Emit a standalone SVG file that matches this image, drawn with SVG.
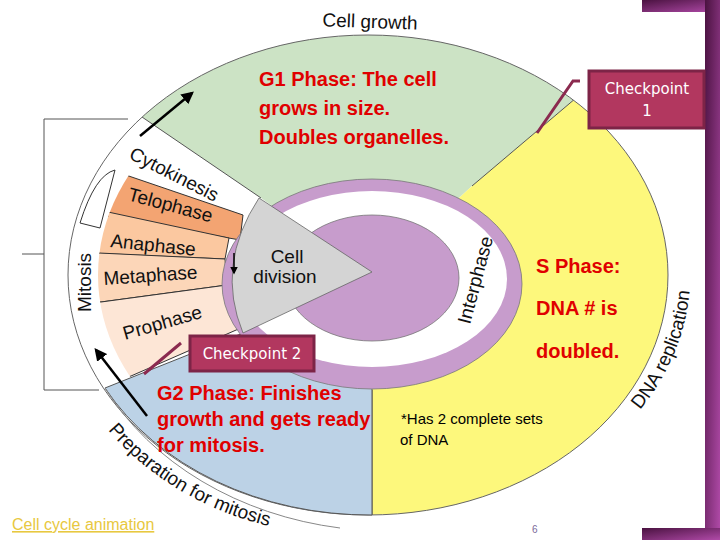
<svg xmlns="http://www.w3.org/2000/svg" width="720" height="540" viewBox="0 0 720 540">
<style>
.lbl{font-family:"Liberation Sans",Arial,sans-serif;font-size:19px;fill:#111}
.red{font-family:"Liberation Sans",Arial,sans-serif;font-size:20px;font-weight:bold;fill:#e00000}
.ck{font-family:"DejaVu Sans",sans-serif;font-size:15px;fill:#fff}
.ckbox{fill:#b2375f;stroke:#7d2447;stroke-width:3}
.band{stroke:#333;stroke-width:1}
</style>
<defs>
<clipPath id="outer"><ellipse cx="368" cy="275" rx="300" ry="240"/></clipPath>
<clipPath id="inner"><ellipse cx="368" cy="275" rx="270" ry="215"/></clipPath>
<linearGradient id="pg" x1="0" y1="0" x2="1" y2="1"><stop offset="0" stop-color="#4a1240"/><stop offset="1" stop-color="#b04aa8"/></linearGradient>
<marker id="ah" viewBox="0 0 10 10" refX="8" refY="5" markerWidth="5" markerHeight="5" orient="auto"><path d="M0,0 L10,5 L0,10 z" fill="#000"/></marker>
</defs>
<rect width="720" height="540" fill="#fff"/>
<g id="frame"><rect x="642" y="0" width="78" height="12" fill="url(#pg)"/><rect x="705" y="0" width="15" height="540" fill="url(#pg)"/><rect x="642" y="528" width="78" height="12" fill="url(#pg)"/></g>
<g id="disk">
<ellipse cx="368" cy="275" rx="300" ry="240" fill="#fff"/>
<g clip-path="url(#outer)">
<polygon id="g1" points="261,198 142,117 80,40 368,-10 700,-10 576,98 472,186 372,278" fill="#cce3c5"/>
<polygon id="s" points="472,186 576,98 760,-10 760,600 372,600 372,278" fill="#fdf87c"/>
<line x1="261" y1="198" x2="142" y2="117" stroke="#555"/><line x1="472" y1="186" x2="576" y2="98" stroke="#555"/><line x1="372" y1="390" x2="372" y2="520" stroke="#555"/>
</g>
<ellipse cx="368" cy="275" rx="300" ry="240" fill="none" stroke="#666"/>
<path id="g2" d="M372,278 L372,515 A300 240 0 0 1 105,388 L243,333 Z" fill="#bcd2e6" stroke="#555"/>
<g clip-path="url(#inner)">
<polygon class="band" points="100,160 117,172 243,215 240,240 100,215" fill="#f3a472"/>
<polygon class="band" points="90,212 108,212 229,238 225,259 90,253" fill="#fbc8a0"/>
<polygon class="band" points="90,253 99,253 225,259 227,285 101,302 90,302" fill="#fcd6b8"/>
<polygon class="band" points="90,302 101,302 227,285 243,327 131,376 90,390" fill="#fde6d6"/>
</g>
<path d="M105,388 A318 262 0 0 0 340,528" fill="none" stroke="#888"/>
</g>
<g id="inner-cycle">
<ellipse cx="372" cy="284" rx="150" ry="105" fill="#c79ccc" stroke="#777" stroke-width="0.8"/>
<ellipse cx="372" cy="279" rx="135" ry="88" fill="#fff"/>
<ellipse cx="372" cy="278" rx="87" ry="63" fill="#c79ccc" stroke="#777" stroke-width="0.8"/>
</g>
<g id="cell-division"><path d="M372,272 L259,198 Q215,265 243,333 Z" fill="#d4d4d4" stroke="#666" stroke-width="0.8"/>
<text class="lbl" x="287" y="263" text-anchor="middle">Cell</text><text class="lbl" x="285" y="283" text-anchor="middle">division</text></g>
<g id="labels" class="lbl">
<text x="370" y="28" text-anchor="middle" transform="rotate(2 370 22)">Cell growth</text>
<text x="128" y="158" transform="rotate(27 128 158)">Cytokinesis</text>
<text x="127" y="200" transform="rotate(15 127 200)">Telophase</text>
<text x="110" y="247" transform="rotate(6 110 247)">Anaphase</text>
<text x="104" y="285" transform="rotate(-4 104 285)">Metaphase</text>
<text x="125" y="340" transform="rotate(-16 125 340)">Prophase</text>
<text x="91" y="312" transform="rotate(-90 91 312)">Mitosis</text>
<text x="470" y="325" transform="rotate(-75 470 325)">Interphase</text>
<path id="dnap" d="M640 410 A318 252 0 0 0 690 285" fill="none"/>
<text><textPath href="#dnap">DNA replication</textPath></text>
<path id="prep" d="M108 430 A300 255 0 0 0 325 535" fill="none"/>
<text><textPath href="#prep">Preparation for mitosis</textPath></text>
</g>
<g id="bracket" fill="none" stroke="#555"><polyline points="128,119 44,119 44,390 99,390"/><line x1="22" y1="254" x2="44" y2="254"/><path d="M115,170 L100,228 L80,223 Q95,175 115,170" stroke="#333"/></g>
<g id="connectors" stroke="#000" stroke-width="2.5" fill="none">
<line x1="140" y1="136" x2="192" y2="93" marker-end="url(#ah)"/>
<line x1="147" y1="416" x2="96" y2="350" marker-end="url(#ah)"/>
<line x1="234" y1="253" x2="234" y2="273" stroke-width="1.5" marker-end="url(#ah)"/>
<polyline points="580,81 573,81 537,133" stroke="#8b2a4f" stroke-width="3"/>
<line x1="181" y1="343" x2="144" y2="374" stroke="#8b2a4f" stroke-width="3"/>
</g>
<g id="checkpoint1"><rect class="ckbox" x="589" y="71" width="115" height="57"/><text class="ck" x="647" y="94" text-anchor="middle">Checkpoint</text><text class="ck" x="647" y="116" text-anchor="middle">1</text></g>
<g id="checkpoint2"><rect class="ckbox" x="190" y="336" width="124" height="35"/><text class="ck" x="252" y="359" text-anchor="middle">Checkpoint 2</text></g>
<g id="text" class="red">
<text x="259" y="86">G1 Phase: The cell</text><text x="259" y="115">grows in size.</text><text x="259" y="144">Doubles organelles.</text>
<text x="536" y="273">S Phase:</text><text x="536" y="315">DNA # is</text><text x="536" y="358">doubled.</text>
<text x="157" y="400">G2 Phase: Finishes</text><text x="157" y="426">growth and gets ready</text><text x="157" y="452">for mitosis.</text>
</g>
<text x="401" y="424" font-family="Liberation Sans,Arial,sans-serif" font-size="15">*Has 2 complete sets</text>
<text x="400" y="445" font-family="Liberation Sans,Arial,sans-serif" font-size="15">of DNA</text>
<text x="12" y="530" font-family="Liberation Sans,Arial,sans-serif" font-size="16" fill="#e8c840" text-decoration="underline">Cell cycle animation</text>
<text x="532" y="533" font-family="Liberation Sans,Arial,sans-serif" font-size="10" fill="#7a6a9a">6</text>
</svg>
